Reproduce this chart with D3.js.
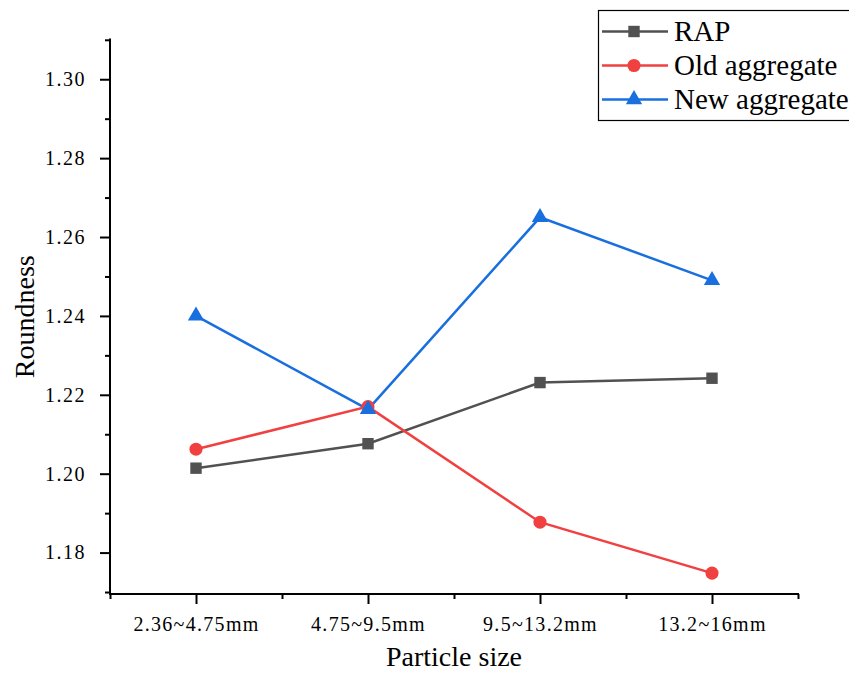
<!DOCTYPE html>
<html>
<head>
<meta charset="utf-8">
<script src="https://cdn.jsdelivr.net/npm/d3@7"></script>
<style>
  html, body { margin: 0; padding: 0; background: #fff; }
  svg { display: block; }
  text { font-family: "Liberation Serif", "Times New Roman", serif; fill: #000; }
</style>
</head>
<body>
<svg id="chart" width="849" height="673"></svg>
<script>
// ---- data ----
const categories = ["2.36~4.75mm", "4.75~9.5mm", "9.5~13.2mm", "13.2~16mm"];
const rapValues = [1.2014, 1.2076, 1.2231, 1.2242];
const oldAggregateValues = [1.2062, 1.2170, 1.1877, 1.1748];
const newAggregateValues = [1.2400, 1.2163, 1.2650, 1.2490];
const seriesNames = ["RAP", "Old aggregate", "New aggregate"];
const yMajorTicks = [1.18, 1.20, 1.22, 1.24, 1.26, 1.28, 1.30];
const yMinorTicks = [1.17, 1.19, 1.21, 1.23, 1.25, 1.27, 1.29, 1.31];
const xTitle = "Particle size";
const yTitle = "Roundness";

// ---- layout ----
const svg = d3.select("#chart");
const plotLeft = 110, plotRight = 798, plotTop = 39.4, plotBottom = 594;

const x = d3.scaleLinear().domain([0, categories.length]).range([plotLeft, plotRight]);
const y = d3.scaleLinear().domain([1.1695, 1.3101]).range([plotBottom, plotTop]);

const colors = ["#515151", "#F14040", "#1A6FDF"];
const shapes = [d3.symbolSquare, d3.symbolCircle, d3.symbolTriangle];
const symbolSizes = [130, 135, 115];

const series = [rapValues, oldAggregateValues, newAggregateValues].map((vals, k) => ({
  name: seriesNames[k],
  color: colors[k],
  shape: shapes[k],
  size: symbolSizes[k],
  points: vals.map((v, i) => ({ i, v }))
}));

// ---- axes ----
const axisStroke = 2;
function styleAxis(g) {
  g.selectAll(".domain").attr("stroke", "#000").attr("stroke-width", axisStroke);
  g.selectAll(".tick line").attr("stroke", "#000").attr("stroke-width", axisStroke);
}

// Y axis minor
svg.append("g")
  .attr("transform", `translate(${plotLeft},0)`)
  .call(d3.axisLeft(y).tickValues(yMinorTicks).tickSize(5).tickFormat(""))
  .call(styleAxis)
  .call(g => g.select(".domain").remove());

// Y axis major
svg.append("g")
  .attr("transform", `translate(${plotLeft},0)`)
  .call(d3.axisLeft(y).tickValues(yMajorTicks).tickSize(10).tickSizeOuter(0).tickPadding(14).tickFormat(d3.format(".2f")))
  .call(styleAxis)
  .call(g => g.select(".domain").attr("d", `M0,${plotTop - 1}V${plotBottom + 1}`))
  .call(g => g.selectAll(".tick text")
      .attr("font-family", "Liberation Serif, serif")
      .attr("font-size", 20)
      .attr("letter-spacing", "1.5px")
      .attr("fill", "#000"));

// X axis minor (category boundaries)
svg.append("g")
  .attr("transform", `translate(0,${plotBottom})`)
  .call(d3.axisBottom(x).tickValues(d3.range(0, categories.length + 1)).tickSize(5).tickFormat(""))
  .call(styleAxis)
  .call(g => g.select(".domain").remove());

// X axis major (category centers)
svg.append("g")
  .attr("transform", `translate(0,${plotBottom})`)
  .call(d3.axisBottom(x)
      .tickValues(categories.map((c, i) => i + 0.5))
      .tickSize(10).tickSizeOuter(0).tickPadding(13)
      .tickFormat((d) => categories[Math.floor(d)]))
  .call(styleAxis)
  .call(g => g.select(".domain").attr("d", `M${plotLeft - 1},0H${plotRight + 1}`))
  .call(g => g.selectAll(".tick text")
      .attr("font-family", "Liberation Serif, serif")
      .attr("font-size", 20)
      .attr("letter-spacing", "1.3px")
      .attr("fill", "#000"));

// ---- axis titles ----
svg.append("text")
  .attr("x", (plotLeft + plotRight) / 2)
  .attr("y", 666)
  .attr("text-anchor", "middle")
  .attr("font-size", 28)
  .text(xTitle);

svg.append("text")
  .attr("transform", `translate(34,${(plotTop + plotBottom) / 2}) rotate(-90)`)
  .attr("text-anchor", "middle")
  .attr("font-size", 28)
  .text(yTitle);

// ---- lines & markers ----
const line = d3.line().x(d => x(d.i + 0.5)).y(d => y(d.v));

series.forEach(s => {
  svg.append("path")
    .datum(s.points)
    .attr("fill", "none")
    .attr("stroke", s.color)
    .attr("stroke-width", 2.5)
    .attr("d", line);
});

series.forEach(s => {
  svg.append("g").selectAll("path")
    .data(s.points)
    .join("path")
    .attr("transform", d => `translate(${x(d.i + 0.5)},${y(d.v)})`)
    .attr("d", d3.symbol().type(s.shape).size(s.size)())
    .attr("fill", s.color);
});

// ---- legend ----
const legend = svg.append("g");
legend.append("rect")
  .attr("x", 598.5).attr("y", 10.5)
  .attr("width", 270).attr("height", 110)
  .attr("fill", "#fff")
  .attr("stroke", "#000")
  .attr("stroke-width", 1.2);

const rowY = [31.5, 65.5, 99.5];
series.forEach((s, k) => {
  const g = legend.append("g").attr("transform", `translate(0,${rowY[k]})`);
  g.append("line")
    .attr("x1", 602).attr("x2", 668)
    .attr("y1", 0).attr("y2", 0)
    .attr("stroke", s.color).attr("stroke-width", 2.5);
  g.append("path")
    .attr("transform", "translate(634,0)")
    .attr("d", d3.symbol().type(s.shape).size(s.size)())
    .attr("fill", s.color);
  g.append("text")
    .attr("x", 674)
    .attr("y", 0)
    .attr("dy", "0.34em")
    .attr("font-size", 29)
    .text(s.name);
});
</script>
</body>
</html>
